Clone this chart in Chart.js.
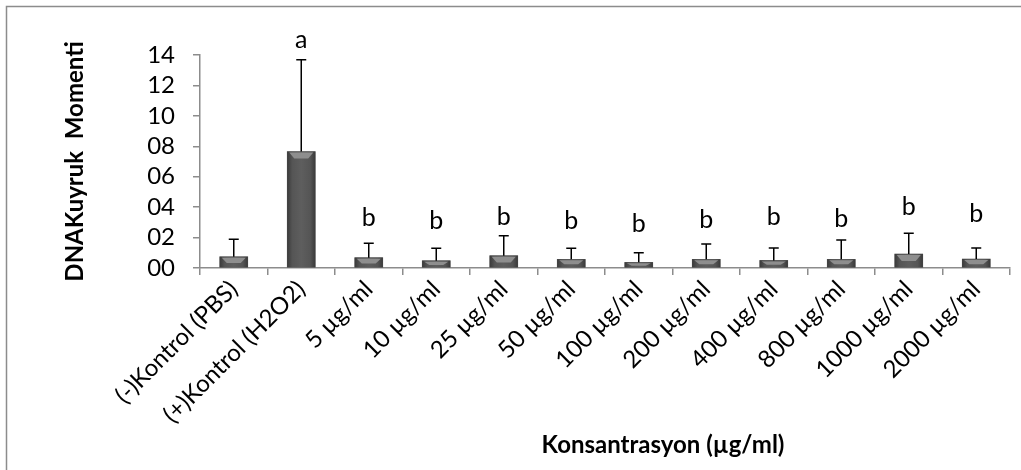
<!DOCTYPE html>
<html>
<head>
<meta charset="utf-8">
<script src="https://cdn.jsdelivr.net/npm/chart.js@4.4.1/dist/chart.umd.min.js"></script>
<style>
  html, body { margin: 0; padding: 0; background: #fff; }
  #wrap { position: relative; width: 1021px; height: 470px; }
</style>
</head>
<body>
<div id="wrap"><canvas id="cometChart" width="1021" height="470"></canvas></div>
<script>
// Comet assay: DNA tail moment per concentration (mean + SD), letters = groups
const categories = [
  "(-)Kontrol (PBS)", "(+)Kontrol (H2O2)", "5 µg/ml", "10 µg/ml", "25 µg/ml", "50 µg/ml",
  "100 µg/ml", "200 µg/ml", "400 µg/ml", "800 µg/ml", "1000 µg/ml", "2000 µg/ml",
];
const means = [0.74, 7.65, 0.68, 0.48, 0.81, 0.57, 0.37, 0.57, 0.50, 0.57, 0.92, 0.59];
const sds   = [1.15, 6.03, 0.94, 0.82, 1.31, 0.73, 0.63, 1.01, 0.82, 1.27, 1.36, 0.73];
const letters   = ["", "a", "b", "b", "b", "b", "b", "b", "b", "b", "b", "b"];
const letterPos = [null, 15.0, 3.29, 3.09, 3.35, 3.09, 2.89, 3.15, 3.35, 3.22, 4.01, 3.55];
const yTickLabels = ["00", "02", "04", "06", "08", "10", "12", "14"];

const FONT = "Lato, 'Open Sans', sans-serif";

/**
 * Frame, bevelled bar faces, error bars, group letters and the x title.
 */
const _decorPlugin = {
  id: "cometDecor",

  beforeDraw(chart) {
    const { ctx } = chart;
    ctx.save();
    ctx.strokeStyle = "#8c8c8c";
    ctx.lineWidth = 1.5;
    ctx.beginPath();
    ctx.moveTo(6.5, 470);
    ctx.lineTo(6.5, 6.5);
    ctx.lineTo(1021, 6.5);
    ctx.stroke();
    ctx.restore();
  },

  afterDatasetsDraw(chart) {
    const { ctx, scales } = chart;
    const meta = chart.getDatasetMeta(0);
    const y = scales.y;

    ctx.save();
    meta.data.forEach((bar, i) => {
      const { x, y: top, base, width } = bar.getProps(["x", "y", "base", "width"], true);
      const l = x - width / 2, r = x + width / 2;

      // side shading
      const g = ctx.createLinearGradient(l, 0, r, 0);
      g.addColorStop(0, "#3a3a3a");
      g.addColorStop(0.18, "#555555");
      g.addColorStop(0.5, "#5e5e5e");
      g.addColorStop(0.82, "#555555");
      g.addColorStop(1, "#3a3a3a");
      ctx.fillStyle = g;
      ctx.fillRect(l, top, width, base - top);

      // top bevel
      const h = Math.min(6, (base - top) / 2);
      ctx.fillStyle = "#8e8e8e";
      ctx.beginPath();
      ctx.moveTo(l + 2, top + 1);
      ctx.lineTo(r - 2, top + 1);
      ctx.lineTo(r - 7, top + 1 + h);
      ctx.lineTo(l + 7, top + 1 + h);
      ctx.closePath();
      ctx.fill();

      // error bar (upper only)
      const yErr = y.getPixelForValue(means[i] + sds[i]);
      ctx.strokeStyle = "#000";
      ctx.lineWidth = 1.5;
      ctx.beginPath();
      ctx.moveTo(x, top);
      ctx.lineTo(x, yErr);
      ctx.moveTo(x - 5, yErr);
      ctx.lineTo(x + 5, yErr);
      ctx.stroke();

      // significance letter
      if (letters[i] && letterPos[i] !== null) {
        ctx.fillStyle = "#000";
        ctx.font = `25px ${FONT}`;
        ctx.textAlign = "center";
        ctx.textBaseline = "middle";
        ctx.fillText(letters[i], x, y.getPixelForValue(letterPos[i]));
      }
    });

    // x axis title
    ctx.fillStyle = "#000";
    ctx.font = `bold 24px ${FONT}`;
    ctx.textAlign = "center";
    ctx.textBaseline = "middle";
    ctx.fillText("Konsantrasyon (µg/ml)", 663, 445);
    ctx.restore();
  },
};

new Chart(document.getElementById("cometChart"), {
  type: "bar",
  data: {
    labels: categories,
    datasets: [{
      data: means,
      backgroundColor: "#555555",
      borderWidth: 0,
      barThickness: 28,
    }],
  },
  plugins: [_decorPlugin],
  options: {
    responsive: false,
    animation: false,
    layout: { padding: { top: 55, left: 0, right: 11, bottom: 0 } },
    plugins: {
      legend: { display: false },
      tooltip: { enabled: false },
    },
    scales: {
      x: {
        afterFit: s => { s.height = 202; },
        ticks: {
          color: "#000",
          font: { family: FONT, size: 24 },
          minRotation: 45,
          maxRotation: 45,
          autoSkip: false,
          padding: 0,
        },
        grid: { drawOnChartArea: false, tickLength: 7, color: "#8c8c8c", lineWidth: 1.5 },
        border: { color: "#8c8c8c", width: 1.5 },
      },
      y: {
        min: 0,
        max: 14,
        afterFit: s => { s.width = 200; },
        ticks: {
          stepSize: 2,
          autoSkip: false,
          color: "#000",
          font: { family: FONT, size: 24 },
          padding: 18,
          callback: (v) => yTickLabels[Math.round(v / 2)],
        },
        grid: { drawOnChartArea: false, tickLength: 7, color: "#8c8c8c", lineWidth: 1.5 },
        border: { color: "#8c8c8c", width: 1.5 },
        title: {
          display: true,
          text: "DNAKuyruk  Momenti",
          color: "#000",
          font: { family: FONT, size: 24, weight: "bold" },
          padding: { top: 61, bottom: 0 },
        },
      },
    },
  },
});
</script>
</body>
</html>
